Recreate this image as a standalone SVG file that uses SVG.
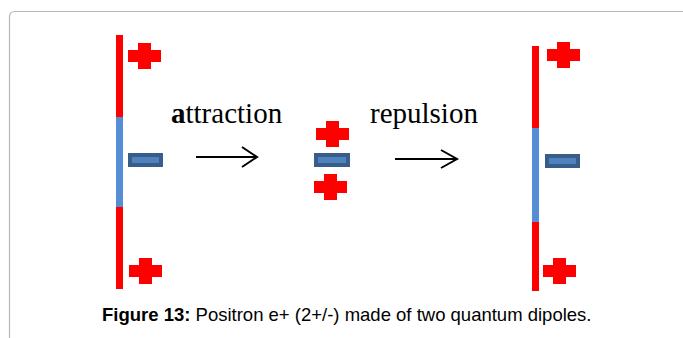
<svg xmlns="http://www.w3.org/2000/svg" width="683" height="338" viewBox="0 0 683 338">
<defs>
<style>
.red{fill:#ff0000}
.blue{fill:#558ed5}
.minus{fill:#4f81bd;stroke:#385d8a;stroke-width:4}
.arrow{fill:none;stroke:#000;stroke-width:2}
.lbl{font-family:"Liberation Serif","Times New Roman",serif;font-size:29px;fill:#000}
.cap{font-family:"Liberation Sans",Arial,sans-serif;font-size:18.5px;fill:#000}
</style>
<symbol id="plus" overflow="visible">
<rect class="red" x="0" y="7" width="33" height="12"/>
<rect class="red" x="10" y="0" width="13" height="26"/>
</symbol>
</defs>
<rect width="683" height="338" fill="#fff"/>
<path d="M9.5 338 V17 Q9.5 11.5 15 11.5 H683" fill="none" stroke="#b8b8b8" stroke-width="1.2"/>
<g id="left-dipole">
<rect class="red" x="116" y="35" width="7" height="82"/>
<rect class="blue" x="116" y="117" width="7" height="90"/>
<rect class="red" x="116" y="207" width="7" height="82"/>
<use href="#plus" x="128" y="43"/>
<rect class="minus" x="130" y="155" width="31" height="10"/>
<use href="#plus" x="129" y="258"/>
</g>
<g id="middle-dipole">
<use href="#plus" x="316" y="121"/>
<rect class="minus" x="316" y="155" width="32" height="10"/>
<use href="#plus" x="314" y="174"/>
</g>
<g id="right-dipole">
<rect class="red" x="532" y="46" width="7" height="82"/>
<rect class="blue" x="532" y="128" width="7" height="94"/>
<rect class="red" x="532" y="222" width="7" height="69"/>
<use href="#plus" x="547" y="42"/>
<rect class="minus" x="547" y="156" width="31" height="10"/>
<use href="#plus" x="543" y="258"/>
</g>
<g id="connectors">
<path class="arrow" d="M196 157 H257 M242 147 L257 157 L242 167"/>
<path class="arrow" d="M395 159 H457 M441 150 L457 159 L441 168"/>
</g>
<g id="labels">
<text class="lbl" x="171" y="123"><tspan font-weight="bold">a</tspan>ttraction</text>
<text class="lbl" x="370" y="123">repulsion</text>
<text class="cap" x="102" y="321"><tspan font-weight="bold">Figure 13:</tspan> Positron e+ (2+/-) made of two quantum dipoles.</text>
</g>
</svg>
